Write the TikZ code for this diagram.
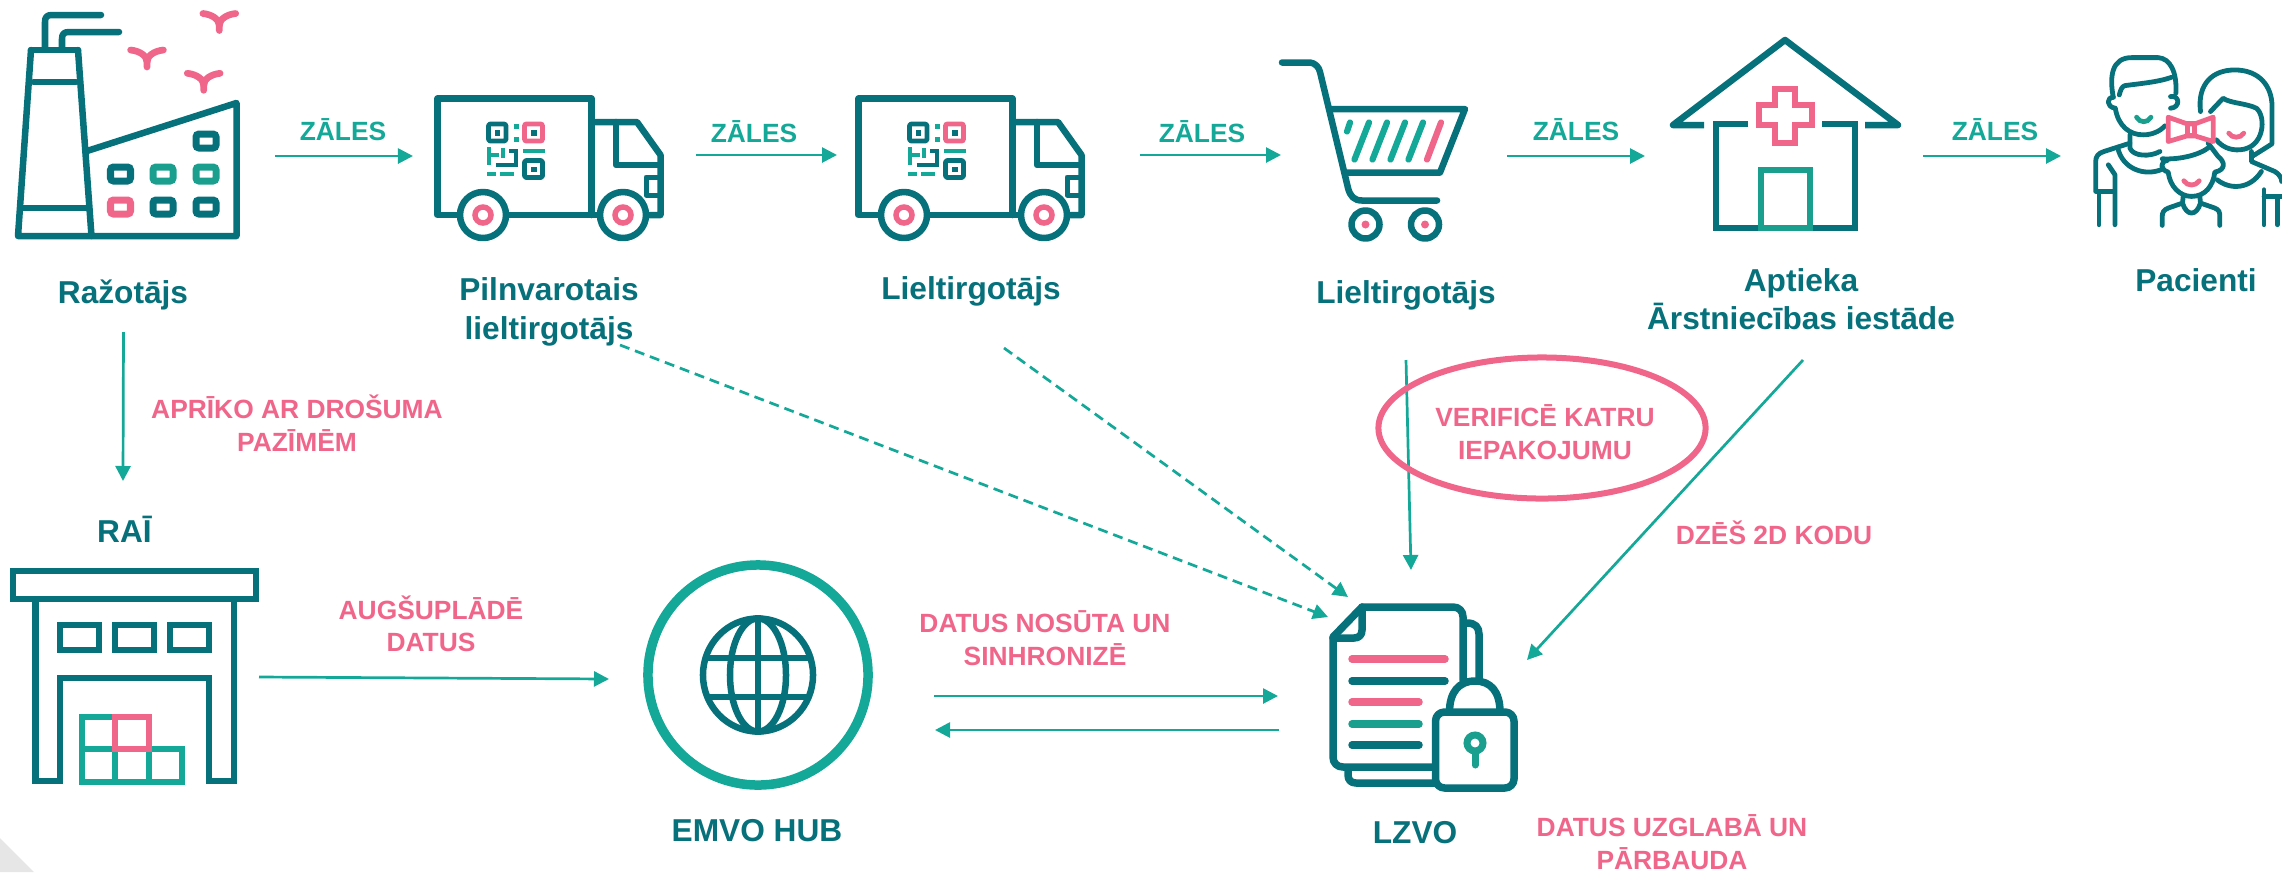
\documentclass[tikz,border=0pt]{standalone}
\usepackage{fontspec}
\setmainfont{Liberation Sans}
\usetikzlibrary{positioning,arrows.meta,shapes.geometric}
\definecolor{dkteal}{HTML}{06707B}
\definecolor{ltteal}{HTML}{14A898}
\definecolor{icteal}{HTML}{1A9F8F}
\definecolor{lblpink}{HTML}{F0668B}
\definecolor{cornergrey}{HTML}{E6E6E6}

\begin{document}
\begin{tikzpicture}[
x=0.01cm, y=-0.01cm,
arrowline/.style={draw=ltteal, line width=0.27mm, -{Triangle[length=1.5mm,width=1.5mm]}},
dashline/.style={arrowline, dash pattern=on 1mm off 0.6mm},
namelbl/.style={text=dkteal, font=\fontsize{9}{10.9}\selectfont\bfseries, align=center, inner sep=0pt},
pinklbl/.style={text=lblpink, font=\fontsize{7.5}{9.25}\selectfont\bfseries, align=center, inner sep=0pt},
goodslbl/.style={text=ltteal, font=\fontsize{7.5}{9}\selectfont\bfseries, inner sep=0pt},
icon/.style={draw=dkteal, line width=0.65mm, line join=round, line cap=round},
iconthin/.style={draw=dkteal, line width=0.48mm, line join=round, line cap=round},
cartbar/.style={draw=ltteal, line width=0.62mm, line cap=round},
winpic/.pic={\draw[line width=0.7mm, rounded corners=0.3mm, pic actions] (-10,-7) rectangle (10,7);},
birdpic/.pic={
  \draw[draw=lblpink, line width=0.67mm, line cap=round, line join=round] (-16.4,0) .. controls (-7,1) and (0,6) .. (0,12) -- (0,17);
  \draw[draw=lblpink, line width=0.67mm, line cap=round, line join=round] (16.4,0) .. controls (7,1) and (0,6) .. (0,12);
},
truckpic/.pic={
  \draw[icon] (482,215) -- (437.5,215) -- (437.5,98.5) -- (591.5,98.5) -- (591.5,215);
  \draw[icon] (591.5,122) -- (637,122) -- (660.5,155) -- (660.5,215) -- (646,215);
  \draw[icon] (616,122) -- (616,165) -- (660.5,165);
  \draw[icon, line width=0.5mm] (660.5,177) -- (646,177) -- (646,195) -- (660.5,195);
  \draw[icon] (506,215) -- (600,215);
  \draw[icon, fill=white] (483,215) circle (23);
  \draw[icon, fill=white] (623,215) circle (23);
  \draw[draw=lblpink, line width=0.55mm] (483,215) circle (8);
  \draw[draw=lblpink, line width=0.55mm] (623,215) circle (8);
  \draw[iconthin, rounded corners=0.2mm] (488.5,124) rectangle (506,141);
  \draw[draw=lblpink, line width=0.48mm, rounded corners=0.2mm] (524.5,124) rectangle (542.5,141);
  \draw[iconthin, rounded corners=0.2mm] (524.5,160.5) rectangle (542.5,177.5);
  \fill[dkteal] (494.5,130) rectangle (500,135.5);
  \fill[dkteal] (531,130) rectangle (536.5,135.5);
  \fill[dkteal] (531,166.5) rectangle (536.5,172);
  \fill[ltteal] (513.5,124) rectangle (518.5,129);
  \fill[ltteal] (513.5,137) rectangle (518.5,142);
  \fill[ltteal] (522.5,149) rectangle (545,153);
  \fill[ltteal] (486.5,147) rectangle (491,165);
  \fill[ltteal] (486.5,153) rectangle (499,157);
  \fill[ltteal] (501,148) rectangle (505,158);
  \fill[ltteal] (486.5,172) rectangle (495.5,176);
  \fill[ltteal] (500,172) rectangle (513.5,176);
  \draw[draw=dkteal, line width=0.4mm] (495.5,165) -- (515.5,165) -- (515.5,150.5) -- (509,150.5);
}
]
% corner
\fill[cornergrey] (0,838) -- (34,872) -- (0,872) -- cycle;
\useasboundingbox (0,0) rectangle (2282,872);

% factory
\draw[icon] (45,48) -- (45,22) .. controls (45,17) and (47,15) .. (52,15) -- (101,15);
\draw[icon] (62,48) -- (62,39) .. controls (62,34) and (64,32) .. (69,32) -- (119,32);
\draw[icon] (31,50) -- (78,50);
\draw[icon] (31,50) -- (18,236) -- (236.5,236) -- (236.5,103) -- (87,151);
\draw[icon] (78,50) -- (91.5,236);
\draw[icon] (33.5,82) -- (76,82);
\draw[icon] (22,208) -- (87,208);
\pic[draw=dkteal] at (206,141) {winpic};
\pic[draw=dkteal] at (120.5,174) {winpic};
\pic[draw=icteal] at (163,174) {winpic};
\pic[draw=icteal] at (206,174) {winpic};
\pic[draw=lblpink] at (120.5,207) {winpic};
\pic[draw=dkteal] at (163,207) {winpic};
\pic[draw=dkteal] at (206,207) {winpic};
\pic at (219.3,13.5) {birdpic};
\pic at (147,50) {birdpic};
\pic at (203.7,73.3) {birdpic};

% trucks
\pic at (0,0) {truckpic};
\pic at (421,0) {truckpic};

% cart
\draw[icon] (1282,62.5) -- (1310,62.5) .. controls (1315,63) and (1319,67) .. (1320,72) -- (1348,188) .. controls (1350,196) and (1354,200.5) .. (1362,200.5) -- (1437,200.5);
\draw[icon] (1331,109) -- (1465,109) -- (1440,172.5) -- (1346,172.5);
\draw[cartbar] (1350,122.5) -- (1347,131.5);
\draw[cartbar] (1369,122.5) -- (1354.5,159.5);
\draw[cartbar] (1387,122.5) -- (1372.5,159.5);
\draw[cartbar] (1405,122.5) -- (1390.5,159.5);
\draw[cartbar] (1423,122.5) -- (1408.5,159.5);
\draw[cartbar, draw=lblpink] (1441,122.5) -- (1427,159.5);
\draw[icon] (1365.5,224.5) circle (14);
\draw[icon] (1425,224.5) circle (14);
\fill[lblpink] (1365.5,224.5) circle (4);
\fill[lblpink] (1425,224.5) circle (4);

% pharmacy
\draw[icon, line cap=butt] (1704,125) -- (1673,125) -- (1785,40) -- (1898,125) -- (1865,125);
\draw[icon, line cap=butt, line join=miter] (1748,124) -- (1716,124) -- (1716,228) -- (1855,228) -- (1855,124) -- (1822,124);
\draw[draw=lblpink, line width=0.6mm, fill=white, line join=miter] (1775,89) -- (1795,89) -- (1795,105) -- (1812,105) -- (1812,125) -- (1795,125) -- (1795,143) -- (1775,143) -- (1775,125) -- (1759,125) -- (1759,105) -- (1775,105) -- cycle;
\draw[draw=icteal, line width=0.65mm, line join=miter] (1761,228) -- (1761,170) -- (1810,170) -- (1810,228) -- cycle;

% patients, scope in crop units
\begin{scope}[shift={(2080,40)}, x=0.00333cm, y=-0.00333cm]
\draw[iconthin] (100,172) .. controls (88,110) and (95,53) .. (155,53) -- (235,53) .. controls (270,55) and (292,95) .. (288,160);
\draw[iconthin] (118,165) .. controls (122,150) and (125,140) .. (135,137) .. controls (190,130) and (240,125) .. (275,112);
\draw[iconthin] (100,172) .. controls (80,172) and (78,200) .. (105,205);
\draw[iconthin] (272,170) .. controls (300,165) and (302,203) .. (272,205);
\draw[iconthin] (106,205) .. controls (115,260) and (150,285) .. (190,285) .. controls (215,285) and (240,275) .. (255,258);
\draw[iconthin] (150,285) -- (150,325) .. controls (160,350) and (210,352) .. (240,335);
\draw[iconthin] (150,310) -- (72,335) .. controls (55,340) and (47,350) .. (47,365) -- (47,455) -- (100,455);
\draw[iconthin] (85,375) -- (105,405) -- (105,555);
\draw[iconthin] (57,455) -- (57,555);
\draw[iconthin] (115,330) .. controls (130,385) and (190,410) .. (243,390);
\draw[iconthin] (247,357) .. controls (300,360) and (360,345) .. (388,322);
\draw[iconthin] (262,362) .. controls (240,365) and (240,390) .. (265,397) .. controls (270,440) and (300,470) .. (335,470) .. controls (375,470) and (400,440) .. (405,397) .. controls (440,390) and (435,365) .. (415,350) -- (385,310);
\draw[iconthin] (310,470) -- (308,490) -- (265,505) .. controls (252,510) and (247,518) .. (247,530) -- (247,557);
\draw[iconthin] (308,490) .. controls (320,530) and (350,530) .. (362,490);
\draw[iconthin] (360,470) -- (362,490) -- (405,505) .. controls (418,510) and (420,518) .. (420,530) -- (420,557);
\draw[iconthin] (362,215) .. controls (352,130) and (400,90) .. (465,90) .. controls (540,90) and (577,140) .. (577,200) -- (577,312) -- (520,348);
\draw[iconthin] (392,215) -- (430,175) .. controls (450,190) and (500,190) .. (530,205) .. controls (560,230) and (555,325) .. (480,330) .. controls (450,332) and (425,320) .. (410,300);
\draw[iconthin] (515,335) -- (515,365) -- (585,395) .. controls (598,402) and (606,415) .. (606,425);
\draw[iconthin] (412,420) .. controls (450,450) and (510,450) .. (545,395);
\draw[iconthin] (553,450) -- (553,555);
\draw[iconthin] (553,470) -- (606,470);
\draw[iconthin] (593,470) -- (593,555);
\draw[draw=icteal, line width=0.48mm, line cap=round] (170,232) .. controls (180,250) and (203,250) .. (213,232);
\draw[draw=lblpink, line width=0.48mm, line cap=round] (312,423) .. controls (322,440) and (348,440) .. (358,423);
\draw[draw=lblpink, line width=0.48mm, line cap=round] (447,280) .. controls (457,296) and (482,296) .. (492,280);
\draw[draw=lblpink, line width=0.48mm, line join=round, fill=white] (322,252) -- (265,232) -- (265,305) -- (322,288) -- (345,288) -- (400,305) -- (400,232) -- (345,252) -- cycle;
\draw[draw=lblpink, line width=0.48mm] (322,252) rectangle (345,288);
\end{scope}

% warehouse
\draw[icon, line join=miter, line cap=butt] (13,571) rectangle (256,599);
\draw[icon, line join=miter, line cap=butt] (35.5,599) -- (35.5,781) -- (60,781) -- (60,678) -- (209,678) -- (209,781) -- (234,781) -- (234,599);
\draw[icon, line join=miter, line cap=butt, line width=0.6mm] (60,625) rectangle (99,650);
\draw[icon, line join=miter, line cap=butt, line width=0.6mm] (115,625) rectangle (154,650);
\draw[icon, line join=miter, line cap=butt, line width=0.6mm] (170,625) rectangle (209,650);
\draw[draw=ltteal, line width=0.6mm] (82,717) rectangle (115,749);
\draw[draw=ltteal, line width=0.6mm] (82,749) rectangle (115,782);
\draw[draw=ltteal, line width=0.6mm] (115,749) rectangle (149,782);
\draw[draw=ltteal, line width=0.6mm] (149,749) rectangle (182,782);
\draw[draw=lblpink, line width=0.6mm] (115,717) rectangle (149,749);

% hub
\node[circle, draw=ltteal, line width=0.95mm, minimum size=2.2cm, inner sep=0pt] (hub) at (758,675) {};
\node[ellipse, draw=dkteal, line width=0.65mm, minimum width=1.1cm, minimum height=1.13cm, inner sep=0pt] (globe) at (758,675) {};
\node[ellipse, draw=dkteal, line width=0.65mm, minimum width=0.56cm, minimum height=1.13cm, inner sep=0pt] (merid) at (758,675) {};
\draw[icon, line cap=butt] (globe.north) -- (globe.south);
\draw[icon, line cap=butt] (707,658) -- (809,658);
\draw[icon, line cap=butt] (707,697) -- (809,697);

% lzvo
\draw[icon, line width=0.75mm, fill=white] (1348,771) -- (1348,775) .. controls (1348,780) and (1351,783) .. (1356,783) -- (1436,783);
\draw[icon, line width=0.75mm] (1467,623) .. controls (1475,623) and (1479,627) .. (1479,634) -- (1479,678);
\draw[icon, line width=0.75mm] (1463,680) -- (1463,617) .. controls (1463,611) and (1459,607) .. (1453,607) -- (1362,607) -- (1333,637) -- (1333,757) .. controls (1333,763) and (1337,767) .. (1343,767) -- (1432,767);
\draw[icon, line width=0.75mm] (1362,607) -- (1362,630) .. controls (1362,635) and (1359,638) .. (1354,638) -- (1333,638);
\draw[draw=lblpink, line width=0.75mm, line cap=round] (1352,659) -- (1445,659);
\draw[icon, line width=0.75mm] (1352,681) -- (1445,681);
\draw[draw=lblpink, line width=0.75mm, line cap=round] (1352,702) -- (1419,702);
\draw[draw=icteal, line width=0.75mm, line cap=round] (1352,724) -- (1419,724);
\draw[icon, line width=0.75mm] (1352,745) -- (1419,745);
\draw[icon, line width=0.75mm] (1449.5,712) .. controls (1449.5,692) and (1459,681) .. (1475,681) .. controls (1491,681) and (1500,692) .. (1500,712);
\draw[icon, line width=0.75mm, fill=white, rounded corners=0.9mm] (1435.5,712) rectangle (1514,788);
\draw[draw=icteal, line width=0.7mm, line cap=round] (1475,749) -- (1475,765);
\draw[draw=icteal, line width=0.7mm, fill=white] (1475,743) circle (8);

% labels
\node[namelbl] (raz) at (123,295) {Ražotājs};
\node[namelbl] (pilnv) at (549,312) {Pilnvarotais\\lieltirgotājs};
\node[namelbl] (liel) at (971,291) {Lieltirgotājs};
\node[namelbl] (lielb) at (1406,295) {Lieltirgotājs};
\node[namelbl] (apt) at (1801,299) {Aptieka\\Ārstniecības iestāde};
\node[namelbl] (pac) at (2196,280) {Pacienti};
\node[namelbl] (rai) at (124.5,529) {RAĪ};
\node[namelbl] (emvo) at (757,831) {EMVO HUB};
\node[namelbl] (lzvo) at (1415,833) {LZVO};
\node[goodslbl] (zal1) at (343,130) {ZĀLES};
\node[goodslbl] (zal2) at (754,132) {ZĀLES};
\node[goodslbl] (zal3) at (1202,132) {ZĀLES};
\node[goodslbl] (zal4) at (1576,130) {ZĀLES};
\node[goodslbl] (zal5) at (1995,130) {ZĀLES};
\node[pinklbl] (aprik) at (297,423) {APRĪKO AR DROŠUMA\\PAZĪMĒM};
\node[pinklbl] (augs) at (431,624) {AUGŠUPLĀDĒ\\DATUS};
\node[pinklbl] (sutit) at (1045,638) {DATUS NOSŪTA UN\\SINHRONIZĒ};
\node[pinklbl] (verif) at (1545,432) {VERIFICĒ KATRU\\IEPAKOJUMU};
\node[pinklbl] (dzes) at (1774,533) {DZĒŠ 2D KODU};
\node[pinklbl] (glab) at (1672,842) {DATUS UZGLABĀ UN\\PĀRBAUDA};

% free ends of the connectors
\coordinate (zaS1) at (275,156);
\coordinate (zaE1) at (413,156);
\coordinate (zaS2) at (696,155);
\coordinate (zaE2) at (837,155);
\coordinate (zaS3) at (1140,155);
\coordinate (zaE3) at (1281,155);
\coordinate (zaS4) at (1507,156);
\coordinate (zaE4) at (1645,156);
\coordinate (zaS5) at (1923,156);
\coordinate (zaE5) at (2061,156);
\coordinate (razOut) at (123.5,332);
\coordinate (raiIn) at (123,481);
\coordinate (raiOut) at (259,677);
\coordinate (hubIn) at (609,679);
\coordinate (hubOutA) at (934,696);
\coordinate (lzIn) at (1278,696);
\coordinate (lzOut) at (1279,730);
\coordinate (hubOutB) at (935,730);
\coordinate (pilOut) at (620,345);
\coordinate (lzDashA) at (1328,617);
\coordinate (lielOut) at (1004,348);
\coordinate (lzDashB) at (1348,597);
\coordinate (lielbOut) at (1406,360);
\coordinate (lzTop) at (1411,570);
\coordinate (aptOut) at (1803,360);
\coordinate (lzRight) at (1527,660);

\draw[arrowline] (zaS1) -- (zaE1);
\draw[arrowline] (zaS2) -- (zaE2);
\draw[arrowline] (zaS3) -- (zaE3);
\draw[arrowline] (zaS4) -- (zaE4);
\draw[arrowline] (zaS5) -- (zaE5);
\draw[arrowline] (razOut) -- (raiIn);
\draw[arrowline] (raiOut) -- (hubIn);
\draw[arrowline] (hubOutA) -- (lzIn);
\draw[arrowline] (lzOut) -- (hubOutB);
\draw[dashline] (pilOut) -- (lzDashA);
\draw[dashline] (lielOut) -- (lzDashB);
\draw[arrowline] (lielbOut) -- (lzTop);
\draw[arrowline] (aptOut) -- (lzRight);
\node[ellipse, draw=lblpink, line width=0.6mm, minimum width=3.27cm, minimum height=1.41cm, inner sep=0pt] (verifring) at (1542,428) {};
\end{tikzpicture}
\end{document}
